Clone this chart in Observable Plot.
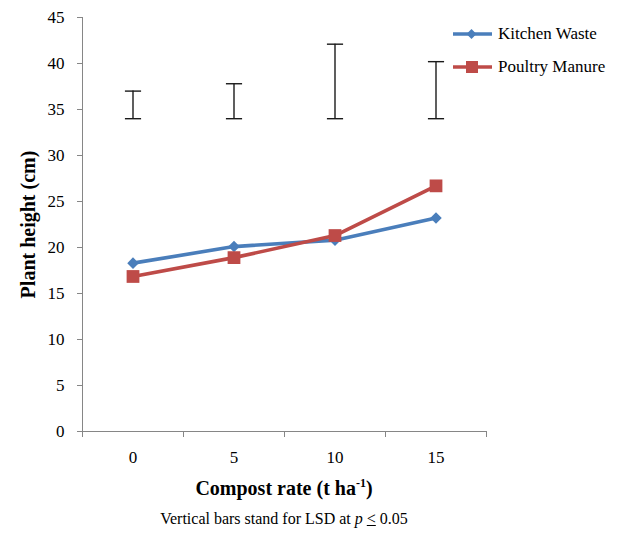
<!DOCTYPE html>
<html>
<head>
<meta charset="utf-8">
<script src="https://cdn.jsdelivr.net/npm/d3@7"></script>
<script src="https://cdn.jsdelivr.net/npm/@observablehq/plot@0.6"></script>
<style>
  html, body { margin: 0; padding: 0; background: #fff; }
  #wrap { position: relative; width: 630px; height: 534px; font-family: 'Times New Roman', Tinos, 'Liberation Serif', serif; }
  #wrap svg, #wrap svg text { font-family: 'Times New Roman', Tinos, 'Liberation Serif', serif; }
  #wrap svg [aria-label="y-axis label"] text { font-weight: bold; font-size: 20px; }
  .legend { position: absolute; left: 453px; top: 17px; font-size: 17px; }
  .legend .item { display: flex; align-items: center; height: 33px; }
  .legend svg { margin-right: 6px; }
  .xlabel { position: absolute; left: 82px; width: 404px; top: 476px; text-align: center; font-weight: bold; font-size: 20px; }
  .xlabel sup { font-size: 12px; }
  .caption { position: absolute; left: 82px; width: 404px; top: 510px; text-align: center; font-size: 16px; }
</style>
</head>
<body>
<div id="wrap"></div>
<script>
const rates = [0, 5, 10, 15];
const kitchenWaste = [18.3, 20.1, 20.8, 23.2];
const poultryManure = [16.85, 18.9, 21.3, 26.7];
const lsdLow = [34, 34, 34, 34];
const lsdHigh = [37.0, 37.8, 42.1, 40.2];
const seriesNames = ["Kitchen Waste", "Poultry Manure"];
const seriesColors = ["#4a7ebb", "#be4b48"];
const yTicks = [0, 5, 10, 15, 20, 25, 30, 35, 40, 45];
const xBounds = [-2.5, 2.5, 7.5, 12.5, 17.5];

const rows = [];
rates.forEach((r, i) => {
  rows.push({rate: r, value: kitchenWaste[i], series: seriesNames[0]});
});
rates.forEach((r, i) => {
  rows.push({rate: r, value: poultryManure[i], series: seriesNames[1]});
});
const lsd = rates.map((r, i) => ({rate: r, lo: lsdLow[i], hi: lsdHigh[i]}));
const caps = lsd.flatMap(d => [{rate: d.rate, y: d.lo}, {rate: d.rate, y: d.hi}]);

const kw = rows.filter(d => d.series === seriesNames[0]);
const pm = rows.filter(d => d.series === seriesNames[1]);

const chart = Plot.plot({
  width: 630,
  height: 500,
  marginLeft: 82,
  marginRight: 144,
  marginTop: 17,
  marginBottom: 69,
  style: {fontFamily: "'Times New Roman', Tinos, 'Liberation Serif', serif", fontSize: "17px", color: "black", background: "white"},
  x: {domain: [-2.5, 17.5]},
  y: {domain: [0, 45]},
  marks: [
    Plot.axisY({ticks: yTicks, tickSize: 5, tickPadding: 13, stroke: "#868686", fill: "black",
      label: "Plant height (cm)", labelAnchor: "center", labelArrow: "none", labelOffset: 62}),
    Plot.axisX({ticks: xBounds, tickSize: 6, tickFormat: () => "", stroke: "#868686", label: null}),
    Plot.axisX({ticks: rates, tickSize: 0, tickPadding: 19, fill: "black", label: null}),
    Plot.ruleX([-2.5], {stroke: "#868686", strokeWidth: 1}),
    Plot.ruleY([0], {stroke: "#868686", strokeWidth: 1}),
    Plot.ruleX(lsd, {x: "rate", y1: "lo", y2: "hi", stroke: "#1a1a1a", strokeWidth: 1.4}),
    Plot.link(caps, {x1: d => d.rate - 0.4, x2: d => d.rate + 0.4, y1: "y", y2: "y", stroke: "#1a1a1a", strokeWidth: 1.4}),
    Plot.line(kw, {x: "rate", y: "value", stroke: seriesColors[0], strokeWidth: 3.6}),
    Plot.line(pm, {x: "rate", y: "value", stroke: seriesColors[1], strokeWidth: 3.6}),
    Plot.dot(kw, {x: "rate", y: "value", symbol: "square", rotate: 45, r: 4.6, fill: seriesColors[0], stroke: "none"}),
    Plot.dot(pm, {x: "rate", y: "value", symbol: "square", r: 7.2, fill: seriesColors[1], stroke: "none"})
  ]
});

const wrap = document.getElementById("wrap");
wrap.appendChild(chart);

const legend = document.createElement("div");
legend.className = "legend";
seriesNames.forEach((name, i) => {
  const item = document.createElement("div");
  item.className = "item";
  const marker = i === 0
    ? `<rect x="15" y="6.5" width="7" height="7" fill="${seriesColors[i]}" transform="rotate(45 18.5 10)"/>`
    : `<rect x="13" y="4" width="12" height="12" fill="${seriesColors[i]}"/>`;
  item.innerHTML = `<svg width="39" height="20"><line x1="0" x2="39" y1="10" y2="10" stroke="${seriesColors[i]}" stroke-width="3.6"/>${marker}</svg><span>${name}</span>`;
  legend.appendChild(item);
});
wrap.appendChild(legend);

const xl = document.createElement("div");
xl.className = "xlabel";
xl.innerHTML = "Compost rate (t ha<sup>-1</sup>)";
wrap.appendChild(xl);

const cap = document.createElement("div");
cap.className = "caption";
cap.innerHTML = "Vertical bars stand for LSD at <i>p</i> <u>&lt;</u> 0.05";
wrap.appendChild(cap);
</script>
</body>
</html>
